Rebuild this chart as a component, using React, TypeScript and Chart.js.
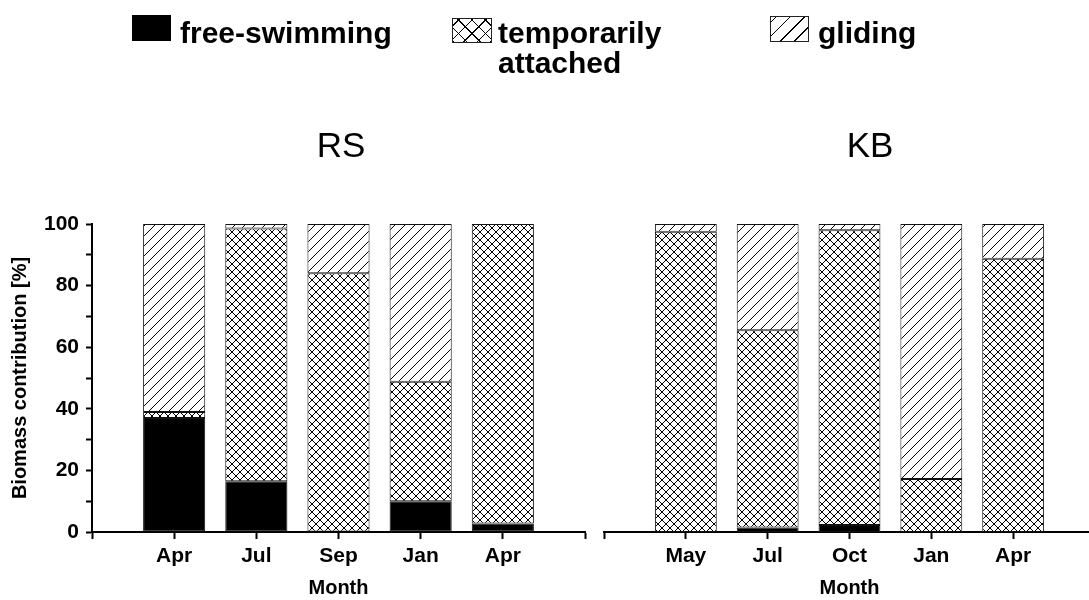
import React, { useEffect, useRef } from 'react';
import { Chart, registerables } from 'chart.js';
Chart.register(...registerables);

const FONT = '"Liberation Sans", Arial, Helvetica, sans-serif';

const seriesNames = ['free-swimming', 'temporarily attached', 'gliding'];
const rsMonths = ['Apr', 'Jul', 'Sep', 'Jan', 'Apr'];
const kbMonths = ['May', 'Jul', 'Oct', 'Jan', 'Apr'];
const rsFree = [37, 16.5, 0, 10, 2.8];
const rsTemp = [2, 82, 84, 38.8, 97.2];
const rsGlide = [61, 1.5, 16, 51.2, 0];
const kbFree = [0, 1.5, 2.3, 0, 0];
const kbTemp = [97.5, 64, 95.7, 17.2, 88.7];
const kbGlide = [2.5, 34.5, 2, 82.8, 11.3];
const yMin = 0;
const yMax = 100;
const yMinorStep = 5;
const yLabelStep = 20;

function makePattern(kind: 'cross' | 'diag', size: number) {
  const c = document.createElement('canvas');
  c.width = size;
  c.height = size;
  const ctx = c.getContext('2d')!;
  ctx.fillStyle = '#fff';
  ctx.fillRect(0, 0, size, size);
  ctx.strokeStyle = '#000';
  ctx.lineWidth = 1;
  ctx.beginPath();
  ctx.moveTo(-1, size + 1); ctx.lineTo(size + 1, -1);
  ctx.moveTo(-1, 1); ctx.lineTo(1, -1);
  ctx.moveTo(size - 1, size + 1); ctx.lineTo(size + 1, size - 1);
  if (kind === 'cross') {
    ctx.moveTo(-1, -1); ctx.lineTo(size + 1, size + 1);
    ctx.moveTo(-1, size - 1); ctx.lineTo(1, size + 1);
    ctx.moveTo(size - 1, -1); ctx.lineTo(size + 1, 1);
  }
  ctx.stroke();
  return ctx.createPattern(c, 'repeat')!;
}

function buildConfig(months: string[], free: number[], temp: number[], glide: number[], showY: boolean, padLeft: number): any {
  const labels = ['', ...months, ''];
  const pad = (a: number[]) => [null, ...a, null];
  const cross = makePattern('cross', 8);
  const diag = makePattern('diag', 10);
  const common = {
    borderColor: '#111',
    borderWidth: 1,
    borderSkipped: false,
    barPercentage: 0.756,
    categoryPercentage: 1,
  };
  const tickFont = { family: FONT, size: 21, weight: 'bold' as const };
  const titleFont = { family: FONT, size: 20, weight: 'bold' as const };
  return {
    type: 'bar',
    data: {
      labels,
      datasets: [
        { label: seriesNames[0], data: pad(free), backgroundColor: '#000', ...common },
        { label: seriesNames[1], data: pad(temp), backgroundColor: cross, ...common },
        { label: seriesNames[2], data: pad(glide), backgroundColor: diag, ...common },
      ],
    },
    options: {
      responsive: false,
      animation: false,
      layout: { padding: { left: padLeft, right: 15, top: 224, bottom: 0 } },
      plugins: { legend: { display: false }, tooltip: { enabled: false }, title: { display: false } },
      scales: {
        x: {
          type: 'category',
          stacked: true,
          offset: false,
          grid: { offset: false, drawOnChartArea: false, drawTicks: true, tickLength: 7, tickWidth: 2, tickColor: '#000' },
          border: { display: true, color: '#000', width: 2 },
          ticks: { color: '#000', font: tickFont, padding: 5, autoSkip: false, maxRotation: 0 },
          title: { display: true, text: 'Month', color: '#000', font: titleFont, padding: { top: 0, bottom: 0 } },
          afterFit: (s: any) => { s.height = 68; },
        },
        y: {
          stacked: true,
          display: showY,
          min: yMin,
          max: yMax,
          grid: { drawOnChartArea: false, drawTicks: true, tickLength: 6, tickWidth: 2, tickColor: '#000' },
          border: { display: true, color: '#000', width: 2 },
          ticks: {
            stepSize: yMinorStep,
            color: '#000',
            font: tickFont,
            padding: 7,
            callback: (v: any) => (Number(v) % yLabelStep === 0 ? String(v) : ''),
          },
          title: { display: true, text: 'Biomass contribution [%]', color: '#000', font: titleFont, padding: { top: 8, bottom: 0 } },
          afterFit: (s: any) => { if (showY) s.width = 92; },
        },
      },
    },
  };
}

function Panel({ months, free, temp, glide, showY, left, width, padLeft }: any) {
  const ref = useRef<HTMLCanvasElement>(null);
  useEffect(() => {
    const chart = new Chart(ref.current!, buildConfig(months, free, temp, glide, showY, padLeft));
    return () => chart.destroy();
  }, []);
  return (
    <canvas ref={ref} width={width} height={600} style={{ position: 'absolute', left, top: 0, width, height: 600 }} />
  );
}

const crossBg =
  'repeating-linear-gradient(45deg, #000 0 1px, transparent 1px 9.5px), repeating-linear-gradient(-45deg, #000 0 1px, transparent 1px 9.5px)';
const diagBg = 'repeating-linear-gradient(-45deg, transparent 0 9px, #000 9px 10px)';

const legendText: React.CSSProperties = {
  position: 'absolute',
  fontFamily: FONT,
  fontWeight: 'bold',
  fontSize: 30,
  lineHeight: '30px',
  color: '#000',
  whiteSpace: 'nowrap',
};

export default function App() {
  return (
    <div style={{ position: 'fixed', left: 0, top: 0, width: 1089, height: 600, overflow: 'hidden', background: '#fff' }}>
      <Panel months={rsMonths} free={rsFree} temp={rsTemp} glide={rsGlide} showY={true} left={0} width={600} padLeft={0} />
      <Panel months={kbMonths} free={kbFree} temp={kbTemp} glide={kbGlide} showY={false} left={590} width={520} padLeft={14} />

      <div style={{ position: 'absolute', left: 132, top: 15, width: 39, height: 26, background: '#000' }} />
      <div style={{ ...legendText, left: 180, top: 18 }}>{seriesNames[0]}</div>

      <div style={{ position: 'absolute', left: 452, top: 18, width: 38, height: 23, border: '1px solid #222', background: crossBg }} />
      <div style={{ ...legendText, left: 498, top: 18 }}>temporarily<br />attached</div>

      <div style={{ position: 'absolute', left: 770, top: 16, width: 37, height: 24, border: '1px solid #222', background: diagBg }} />
      <div style={{ ...legendText, left: 818, top: 18 }}>{seriesNames[2]}</div>

      <div style={{ position: 'absolute', left: 291, top: 127, width: 100, textAlign: 'center', fontFamily: FONT, fontSize: 35, lineHeight: '35px', color: '#000' }}>RS</div>
      <div style={{ position: 'absolute', left: 820, top: 127, width: 100, textAlign: 'center', fontFamily: FONT, fontSize: 35, lineHeight: '35px', color: '#000' }}>KB</div>
    </div>
  );
}
